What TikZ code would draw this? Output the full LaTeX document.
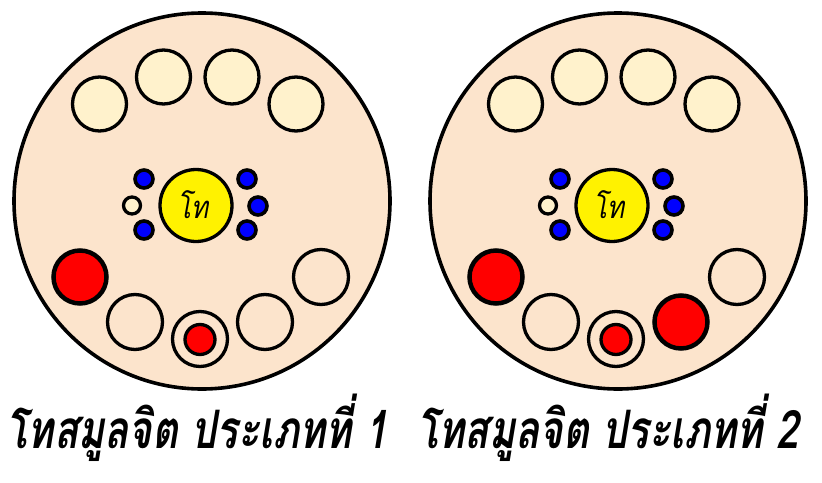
\documentclass[tikz,border=0pt]{standalone}
\usepackage{fontspec}
\newfontfamily\thaifont[Script=Thai,FakeSlant=0.22]{Loma}
\definecolor{peach}{HTML}{FCE4CC}
\definecolor{cream}{HTML}{FFF2CC}
\begin{document}
\begin{tikzpicture}[x=1pt,y=-1pt,
  ball/.style={circle,draw=black,line width=3.3pt,inner sep=0pt,minimum size=#1},
  plate/.style={ball=376,line width=3.6pt,fill=peach},
  seat/.style={ball=54,fill=cream},
  empty/.style={ball=55,fill=peach},
  hot/.style={ball=53,fill=red,line width=4.5pt},
  ring/.style={ball=55,fill=peach},
  core/.style={ball=30,fill=red},
  sun/.style={ball=72,fill=yellow},
  dot/.style={ball=18,fill=blue,line width=3.6pt},
  wdot/.style={ball=17,fill=cream},
  title/.style={anchor=base,inner sep=0pt,font=\thaifont\bfseries\fontsize{53}{53}\selectfont},
  mid/.style={anchor=base,inner sep=0pt,font=\thaifont\fontsize{31}{31}\selectfont}]
\useasboundingbox (0,0) rectangle (822,482);
\foreach \dx/\k in {0/1,416/2}{
  \begin{scope}[xshift=\dx pt]
    \node[plate] (p\k) at (202,201) {};
    \node[seat] (a\k) at (99.5,104) {};
    \node[seat] (b\k) at (163.5,77) {};
    \node[seat] (c\k) at (232,77) {};
    \node[seat] (d\k) at (296,104) {};
    \node[hot] (e\k) at (80,277) {};
    \node[empty] (f\k) at (135,322) {};
    \node[ring] (g\k) at (200,339) {};
    \node[core] (h\k) at (200,339.5) {};
    \node[empty] (j\k) at (321,277) {};
    \node[sun] (s\k) at (196,205.5) {};
    \node[mid] (m\k) at (193,218) {\resizebox{31pt}{\height}{โท}};
    \node[dot] (u\k) at (144,179) {};
    \node[dot] (v\k) at (144,230) {};
    \node[wdot] (w\k) at (132,205.5) {};
    \node[dot] (x\k) at (247,179) {};
    \node[dot] (y\k) at (258,206) {};
    \node[dot] (z\k) at (247,230) {};
  \end{scope}}
\node[empty] (i1) at (265,322) {};
\node[hot] (i2) at (681,322) {};
\node[title] (t1) at (197,448) {\resizebox{381pt}{\height}{โทสมูลจิต ประเภทที่ 1}};
\node[title] (t2) at (608,448) {\resizebox{382pt}{\height}{โทสมูลจิต ประเภทที่ 2}};
\end{tikzpicture}
\end{document}
